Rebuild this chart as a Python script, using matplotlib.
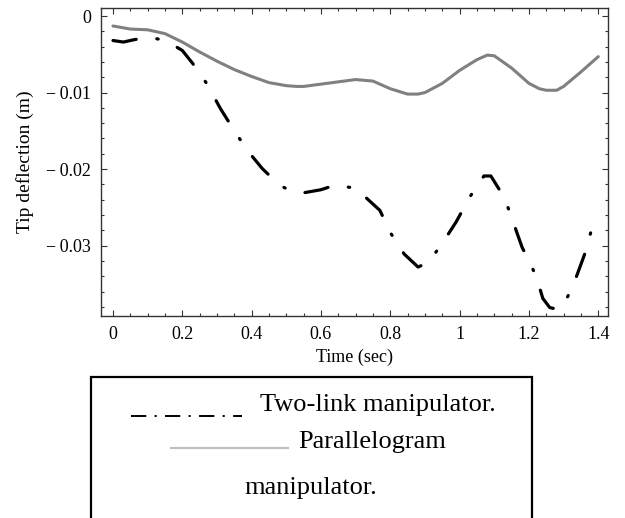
import matplotlib
matplotlib.use("Agg")
import matplotlib.pyplot as plt
from matplotlib.lines import Line2D
from matplotlib.patches import Rectangle
from matplotlib.ticker import MultipleLocator

plt.rcParams['font.family'] = ['Liberation Serif', 'DejaVu Serif']
plt.rcParams['lines.scale_dashes'] = False

# Parallelogram manipulator (gray solid)
t_par = [0.0, 0.05, 0.1, 0.15, 0.2, 0.25, 0.3, 0.35, 0.4, 0.45, 0.5, 0.53, 0.55,
         0.6, 0.65, 0.7, 0.75, 0.8, 0.85, 0.88, 0.9, 0.95, 1.0, 1.05, 1.08, 1.1,
         1.15, 1.2, 1.23, 1.25, 1.28, 1.3, 1.35, 1.4]
y_par = [-0.0013, -0.0017, -0.0018, -0.0023, -0.0034, -0.0047, -0.0059, -0.0070,
         -0.0079, -0.0087, -0.0091, -0.0092, -0.0092, -0.0089, -0.0086, -0.0083,
         -0.0085, -0.0095, -0.0102, -0.0102, -0.0100, -0.0088, -0.0071, -0.0057,
         -0.0051, -0.0052, -0.0068, -0.0088, -0.0095, -0.0097, -0.0097, -0.0092,
         -0.0073, -0.0053]

# Two-link manipulator (black dash-dot)
t_two = [0.0, 0.03, 0.06, 0.1, 0.13, 0.17, 0.2, 0.23, 0.27, 0.31, 0.35, 0.39,
         0.43, 0.48, 0.52, 0.55, 0.6, 0.64, 0.7, 0.77, 0.8, 0.84, 0.88, 0.91,
         0.95, 0.99, 1.03, 1.07, 1.09, 1.13, 1.18, 1.22, 1.24, 1.26, 1.28, 1.3,
         1.33, 1.36, 1.38]
y_two = [-0.0032, -0.0034, -0.0031, -0.0028, -0.0030, -0.0037, -0.0045, -0.0062,
         -0.0088, -0.0121, -0.0150, -0.0177, -0.0199, -0.0221, -0.0230, -0.0231,
         -0.0227, -0.0221, -0.0225, -0.0254, -0.0283, -0.0311, -0.0328, -0.0322,
         -0.0297, -0.0269, -0.0236, -0.0209, -0.0209, -0.0238, -0.0302, -0.0339,
         -0.0369, -0.0381, -0.0383, -0.0378, -0.0349, -0.0312, -0.0280]

x_ticks = [0, 0.2, 0.4, 0.6, 0.8, 1.0, 1.2, 1.4]
x_tick_labels = ["0", "0.2", "0.4", "0.6", "0.8", "1", "1.2", "1.4"]
y_ticks = [0, -0.01, -0.02, -0.03]
y_tick_labels = ["0", "\u2212\u20090.01", "\u2212\u20090.02", "\u2212\u20090.03"]

fig = plt.figure(figsize=(6.25, 5.18), dpi=100)
ax = fig.add_axes([101/625, 1-316/518, (608-101)/625, (316-8)/518])

ax.plot(t_par, y_par, color='#808080', lw=2.2, solid_capstyle='round',
        solid_joinstyle='round')
ax.plot(t_two, y_two, color='black', lw=2.3, dashes=(17, 15, 1, 15),
        dash_capstyle='round', dash_joinstyle='round')

ax.set_xlim(-0.0346, 1.428)
ax.set_ylim(-0.0392, 0.00105)
ax.set_xticks(x_ticks)
ax.set_xticklabels(x_tick_labels)
ax.set_yticks(y_ticks)
ax.set_yticklabels(y_tick_labels)
ax.xaxis.set_minor_locator(MultipleLocator(0.05))
ax.yaxis.set_minor_locator(MultipleLocator(0.002))
ax.tick_params(which='both', direction='in', top=True, right=True, width=0.8,
               color='#333333')
ax.tick_params(which='major', length=4.5, labelsize=13, pad=7)
ax.tick_params(which='minor', length=2.5)
for s in ax.spines.values():
    s.set_linewidth(1.0)
    s.set_color('#333333')

ax.set_xlabel("Time (sec)", fontsize=13, labelpad=4)
ax.set_ylabel("Tip deflection (m)", fontsize=14, labelpad=9)

# Legend box (clipped at the bottom of the figure)
rect = Rectangle((91/625, -0.2), (532-91)/625, 0.2 + 1-377/518,
                 transform=fig.transFigure, fill=False, lw=1.6, ec='black')
fig.add_artist(rect)
fig.add_artist(Line2D([131/625, 242/625], [1-416/518, 1-416/518],
                      transform=fig.transFigure, color='black', lw=1.4,
                      dashes=(11, 6, 1.5, 6)))
fig.text(260/625, 1-405/518, "Two-link manipulator.", fontsize=19,
         ha='left', va='center')
fig.add_artist(Line2D([171/625, 288/625], [1-448/518, 1-448/518],
                      transform=fig.transFigure, color='#c0c0c0', lw=1.6))
fig.text(298/625, 1-442/518, "Parallelogram", fontsize=19,
         ha='left', va='center')
fig.text(244/625, 1-488/518, "manipulator.", fontsize=19,
         ha='left', va='center')

fig.savefig("out.png", dpi=100)
